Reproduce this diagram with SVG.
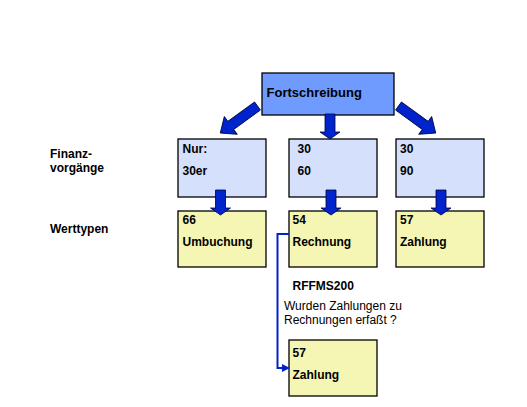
<svg xmlns="http://www.w3.org/2000/svg" width="527" height="407" viewBox="0 0 527 407">
<defs>
<style>
.b{font-family:"Liberation Sans",Arial,sans-serif;font-weight:bold;font-size:12px;fill:#000}
.r{font-family:"Liberation Sans",Arial,sans-serif;font-size:12px;fill:#000}
.top{fill:#6f9bff;stroke:#000;stroke-width:1.3}
.mid{fill:#d4e0fc;stroke:#000;stroke-width:1.3}
.low{fill:#f5f5b4;stroke:#000;stroke-width:1.3}
.ar{fill:#0024cc;stroke:#000033;stroke-width:0.8}
.ln{fill:none;stroke:#0022cc;stroke-width:2}
</style>
<marker id="ah" markerWidth="8" markerHeight="8" refX="7" refY="4" orient="auto" markerUnits="userSpaceOnUse">
<path d="M0,0 L8,4 L0,8 Z" fill="#0022cc"/>
</marker>
<polygon id="dn" points="-5,0 5,0 5,18 10,18 0,25 -10,18 -5,18"/>
<polygon id="dg" points="0,-5 33,-5 33,-11 46,0 33,11 33,5 0,5"/>
</defs>
<rect width="527" height="407" fill="#fff"/>
<g id="labels">
<text class="b" x="50" y="158">Finanz-</text>
<text class="b" x="50" y="172">vorgänge</text>
<text class="b" x="50" y="233">Werttypen</text>
</g>
<g id="node-fortschreibung">
<rect class="top" x="262" y="73" width="132" height="42"/>
<text class="b" x="266.5" y="97" style="font-size:13px">Fortschreibung</text>
</g>
<g id="node-nur30er">
<rect class="mid" x="178" y="139" width="88" height="58"/>
<text class="b" x="182.5" y="153">Nur:</text>
<text class="b" x="182.5" y="175">30er</text>
</g>
<g id="node-30-60">
<rect class="mid" x="289" y="139" width="88" height="58"/>
<text class="b" x="297.5" y="153">30</text>
<text class="b" x="297.5" y="175">60</text>
</g>
<g id="node-30-90">
<rect class="mid" x="396" y="139" width="88" height="58"/>
<text class="b" x="400" y="153">30</text>
<text class="b" x="400" y="175">90</text>
</g>
<g id="node-66">
<rect class="low" x="178" y="211" width="88" height="56"/>
<text class="b" x="182.5" y="224">66</text>
<text class="b" x="182.5" y="246">Umbuchung</text>
</g>
<g id="node-54">
<rect class="low" x="289" y="211" width="88" height="56"/>
<text class="b" x="292.5" y="224">54</text>
<text class="b" x="292.5" y="246">Rechnung</text>
</g>
<g id="node-57">
<rect class="low" x="396" y="211" width="88" height="56"/>
<text class="b" x="400" y="224">57</text>
<text class="b" x="400" y="246">Zahlung</text>
</g>
<g id="node-57b">
<rect class="low" x="289" y="340" width="88" height="56"/>
<text class="b" x="292.5" y="357">57</text>
<text class="b" x="292.5" y="379">Zahlung</text>
</g>
<g id="note">
<text class="b" x="292.5" y="290">RFFMS200</text>
<text class="r" x="284" y="310">Wurden Zahlungen zu</text>
<text class="r" x="284" y="324">Rechnungen erfaßt ?</text>
</g>
<g id="connectors">
<use href="#dg" class="ar" transform="translate(257.5,106) rotate(144)"/>
<use href="#dn" class="ar" transform="translate(330,114)"/>
<use href="#dg" class="ar" transform="translate(398.5,106) rotate(36)"/>
<use href="#dn" class="ar" transform="translate(220.5,190)"/>
<use href="#dn" class="ar" transform="translate(331,190)"/>
<use href="#dn" class="ar" transform="translate(441,190)"/>
<polyline class="ln" points="289,234 277.5,234 277.5,368 289,368" marker-end="url(#ah)"/>
</g>
</svg>
